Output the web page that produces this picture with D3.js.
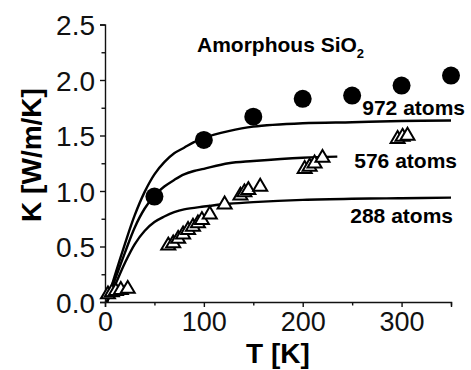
<!DOCTYPE html>
<html>
<head>
<meta charset="utf-8">
<script src="https://cdn.jsdelivr.net/npm/d3@7"></script>
<style>
  body { margin: 0; background: #fff; }
  svg { display: block; font-family: "Liberation Sans", Arial, sans-serif; }
</style>
</head>
<body>
<svg id="chart" width="471" height="370"></svg>
<script>
// fitted curves
const fitT972 = [2, 10, 20, 30, 40, 50, 60, 70, 80, 90, 100, 125, 150, 200, 250, 300, 350];
const fitK972 = [0, 0.24, 0.52, 0.78, 0.99, 1.15, 1.26, 1.34, 1.39, 1.44, 1.48, 1.54, 1.58, 1.61, 1.62, 1.63, 1.635];
const fitT576 = [2, 10, 20, 30, 40, 50, 60, 70, 80, 90, 100, 125, 150, 200, 235];
const fitK576 = [0, 0.20, 0.44, 0.67, 0.84, 0.96, 1.04, 1.10, 1.15, 1.18, 1.20, 1.25, 1.27, 1.30, 1.31];
const fitT288 = [2, 10, 20, 30, 40, 50, 60, 70, 80, 100, 125, 150, 200, 250, 300, 350];
const fitK288 = [0, 0.15, 0.35, 0.52, 0.64, 0.72, 0.77, 0.81, 0.835, 0.86, 0.885, 0.90, 0.92, 0.93, 0.935, 0.94];

// filled circles
const circT = [50, 100, 150, 200, 250, 300, 350];
const circK = [0.95, 1.46, 1.67, 1.83, 1.86, 1.95, 2.04];

// open triangles
const triT = [3, 7, 11, 16, 23, 64, 69, 74, 79, 84, 89, 94, 98, 106, 121, 137, 141, 145, 157, 202, 207, 212, 220, 296, 301, 306];
const triK = [0.08, 0.10, 0.11, 0.12, 0.13, 0.52, 0.54, 0.58, 0.62, 0.66, 0.69, 0.72, 0.75, 0.80, 0.89, 0.97, 1.00, 1.02, 1.05, 1.21, 1.23, 1.26, 1.31, 1.48, 1.50, 1.51];

const xTicks = [0, 100, 200, 300];
const xMinor = [50, 150, 250, 350];
const yTicks = [0, 0.5, 1.0, 1.5, 2.0, 2.5];
const yMinor = [0.25, 0.75, 1.25, 1.75, 2.25];

const margin = {left: 105, top: 24.5, right: 20, bottom: 68};
const width = 471, height = 370;

const svg = d3.select('#chart');
const x = d3.scaleLinear().domain([0, 350]).range([margin.left, width - margin.right]);
const y = d3.scaleLinear().domain([0, 2.5]).range([height - margin.bottom, margin.top]);

// axes
const xAxis = svg.append('g')
    .attr('transform', `translate(0,${y(0)})`)
    .call(d3.axisBottom(x).tickValues(xTicks).tickFormat(d3.format('d')).tickSizeOuter(0).tickSize(5).tickPadding(5));
svg.append('g')
    .attr('transform', `translate(0,${y(0)})`)
    .call(d3.axisBottom(x).tickValues(xMinor).tickFormat('').tickSizeOuter(0).tickSize(3.5))
    .select('.domain').remove();

const yAxis = svg.append('g')
    .attr('transform', `translate(${x(0)},0)`)
    .call(d3.axisLeft(y).tickValues(yTicks).tickFormat(d3.format('.1f')).tickSizeOuter(0).tickSize(5).tickPadding(5));
svg.append('g')
    .attr('transform', `translate(${x(0)},0)`)
    .call(d3.axisLeft(y).tickValues(yMinor).tickFormat('').tickSizeOuter(0).tickSize(3.5))
    .select('.domain').remove();

svg.selectAll('.domain, .tick line').attr('stroke', '#111').attr('stroke-width', 1.4);
xAxis.selectAll('text').attr('font-size', 27).attr('fill', '#111');
yAxis.selectAll('text').attr('font-size', 28).attr('fill', '#111').attr('dy', '0.36em');

// axis titles
svg.append('text')
    .attr('transform', 'translate(41,155) rotate(-90)')
    .attr('text-anchor', 'middle')
    .attr('font-weight', 'bold')
    .attr('font-size', 28)
    .text('K [W/m/K]');
svg.append('text')
    .attr('x', 278).attr('y', 363)
    .attr('text-anchor', 'middle')
    .attr('font-weight', 'bold')
    .attr('font-size', 28)
    .text('T [K]');

// fitted lines
const line = d3.line().x(d => x(d[0])).y(d => y(d[1])).curve(d3.curveCatmullRom);
const fits = [[fitT972, fitK972], [fitT576, fitK576], [fitT288, fitK288]];
svg.selectAll('.fit')
    .data(fits)
    .enter().append('path')
    .attr('class', 'fit')
    .attr('d', d => line(d3.zip(d[0], d[1])))
    .attr('fill', 'none')
    .attr('stroke', '#000')
    .attr('stroke-width', 2.4);

// triangles
const s = 7;
const triPath = `M0,${-s * 0.95}L${s},${s * 0.75}L${-s},${s * 0.75}Z`;
svg.selectAll('.tri')
    .data(d3.zip(triT, triK))
    .enter().append('path')
    .attr('class', 'tri')
    .attr('transform', d => `translate(${x(d[0])},${y(d[1])})`)
    .attr('d', triPath)
    .attr('fill', '#fff')
    .attr('stroke', '#000')
    .attr('stroke-width', 2);

// circles
svg.selectAll('.dot')
    .data(d3.zip(circT, circK))
    .enter().append('circle')
    .attr('class', 'dot')
    .attr('cx', d => x(d[0]))
    .attr('cy', d => y(d[1]))
    .attr('r', 9)
    .attr('fill', '#000');

// labels
const title = svg.append('text')
    .attr('x', 197).attr('y', 52)
    .attr('font-weight', 'bold')
    .attr('font-size', 21);
title.append('tspan').text('Amorphous SiO');
title.append('tspan').attr('font-size', 13).attr('dy', 6).text('2');

const labels = [['972 atoms', 465, 115], ['576 atoms', 457, 168], ['288 atoms', 453, 223]];
svg.selectAll('.lab')
    .data(labels)
    .enter().append('text')
    .attr('class', 'lab')
    .attr('x', d => d[1]).attr('y', d => d[2])
    .attr('text-anchor', 'end')
    .attr('font-weight', 'bold')
    .attr('font-size', 21)
    .text(d => d[0]);
</script>
</body>
</html>
